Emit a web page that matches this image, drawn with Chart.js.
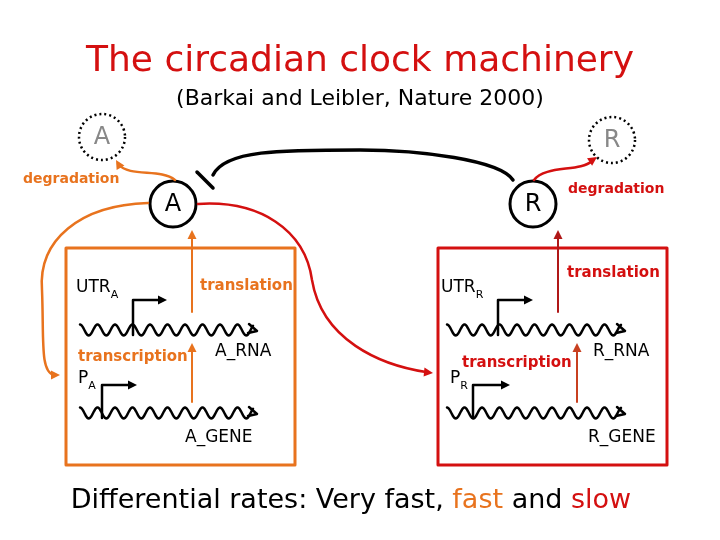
<!DOCTYPE html>
<html><head><meta charset="utf-8">
<script src="https://cdn.jsdelivr.net/npm/chart.js@4"></script>
<style>html,body{margin:0;padding:0;background:#fff}</style>
</head><body>
<canvas id="c" width="720" height="540"></canvas>
<script>
const ORANGE = '#e8731e', RED = '#d41010';
const nodeLabels = ['A','R','A','R'];
const nodeX = [173, 533, 102, 612];
const nodeY = [204, 204, 137, 140];
const nodeGhost = [false, false, true, true];

const texts = [
  {t:'The circadian clock machinery', x:360, y:62, c:RED, s:36, a:'center'},
  {t:'(Barkai and Leibler, Nature 2000)', x:360, y:99, c:'#000', s:22, a:'center'},
  {t:'degradation', x:23, y:179, c:ORANGE, s:14, a:'left', b:true},
  {t:'degradation', x:568, y:189, c:RED, s:14, a:'left', b:true},
  {t:'translation', x:200, y:286, c:ORANGE, s:15, a:'left', b:true},
  {t:'translation', x:567, y:273, c:RED, s:15, a:'left', b:true},
  {t:'transcription', x:78, y:357, c:ORANGE, s:15, a:'left', b:true},
  {t:'transcription', x:462, y:363, c:RED, s:15, a:'left', b:true},
  {t:'A_RNA', x:215, y:352, c:'#000', s:17, a:'left'},
  {t:'A_GENE', x:185, y:438, c:'#000', s:17, a:'left'},
  {t:'R_RNA', x:593, y:352, c:'#000', s:17, a:'left'},
  {t:'R_GENE', x:588, y:438, c:'#000', s:17, a:'left'},
];
const subTexts = [
  {t:'UTR', sub:'A', x:76, y:288},
  {t:'P', sub:'A', x:78, y:379},
  {t:'UTR', sub:'R', x:441, y:288},
  {t:'P', sub:'R', x:450, y:379},
];
const boxes = [{x1:66,y1:248,x2:295,y2:465,c:ORANGE},{x1:438,y1:248,x2:667,y2:465,c:RED}];
const waves = [{x1:80,x2:257,y:330},{x1:80,x2:257,y:413},{x1:447,x2:625,y:330},{x1:447,x2:625,y:413}];
const promoters = [{x:133,y1:335,y2:300,x2:167},{x:102,y1:418,y2:385,x2:137},{x:498,y1:335,y2:300,x2:533},{x:473,y1:418,y2:385,x2:510}];
const straightArrows = [
  {x:192,y1:312,y2:230,c:ORANGE},{x:192,y1:402,y2:343,c:ORANGE},
  {x:558,y1:312,y2:230,c:'#b01818'},{x:577,y1:402,y2:343,c:'#c84020'}];

const diagram = {
  id:'diagram',
  afterDatasetsDraw(chart){
    const ctx = chart.ctx, sx = chart.scales.x, sy = chart.scales.y;
    const X = v=>sx.getPixelForValue(v), Y = v=>sy.getPixelForValue(v);
    const font = (s,b)=>(b?'bold ':'')+s+'px "Comic Sans MS","DejaVu Sans",sans-serif';
    function head(x,y,ang,c){ctx.save();ctx.fillStyle=c;ctx.translate(x,y);ctx.rotate(ang);
      ctx.beginPath();ctx.moveTo(0,0);ctx.lineTo(-9,-4.5);ctx.lineTo(-9,4.5);ctx.closePath();ctx.fill();ctx.restore();}
    ctx.save();
    ctx.lineCap='round';ctx.lineJoin='round';
    boxes.forEach(b=>{ctx.strokeStyle=b.c;ctx.lineWidth=3;ctx.strokeRect(X(b.x1),Y(b.y1),X(b.x2)-X(b.x1),Y(b.y2)-Y(b.y1));});
    ctx.strokeStyle='#000';ctx.lineWidth=2.5;
    waves.forEach(w=>{ctx.beginPath();for(let x=w.x1;x<=w.x2-4;x+=1){const y=w.y-5.5*Math.cos((x-w.x1)*2*Math.PI/17.5);
      x===w.x1?ctx.moveTo(X(x),Y(y)):ctx.lineTo(X(x),Y(y));}ctx.stroke();
      ctx.beginPath();ctx.moveTo(X(w.x2-8),Y(w.y-6));ctx.lineTo(X(w.x2),Y(w.y+1));ctx.lineTo(X(w.x2-9),Y(w.y+3));ctx.stroke();});
    promoters.forEach(p=>{ctx.strokeStyle='#000';ctx.lineWidth=2.5;ctx.beginPath();ctx.moveTo(X(p.x),Y(p.y1));ctx.lineTo(X(p.x),Y(p.y2));ctx.lineTo(X(p.x2-6),Y(p.y2));ctx.stroke();head(X(p.x2),Y(p.y2),0,'#000');});
    straightArrows.forEach(a=>{ctx.strokeStyle=a.c;ctx.lineWidth=2;ctx.beginPath();ctx.moveTo(X(a.x),Y(a.y1));ctx.lineTo(X(a.x),Y(a.y2+6));ctx.stroke();head(X(a.x),Y(a.y2),-Math.PI/2,a.c);});
    ctx.lineWidth=2.5;
    ctx.strokeStyle=ORANGE;ctx.beginPath();ctx.moveTo(X(175),Y(180));ctx.bezierCurveTo(X(160),Y(168),X(130),Y(178),X(118),Y(164));ctx.stroke();head(X(116),Y(160),-2.1,ORANGE);
    ctx.beginPath();ctx.moveTo(X(148),Y(203));ctx.bezierCurveTo(X(80),Y(205),X(38),Y(240),X(42),Y(290));ctx.bezierCurveTo(X(44),Y(340),X(40),Y(372),X(54),Y(375));ctx.stroke();head(X(60),Y(375),0,ORANGE);
    ctx.strokeStyle=RED;ctx.beginPath();ctx.moveTo(X(198),Y(204));ctx.bezierCurveTo(X(260),Y(200),X(305),Y(230),X(312),Y(280));ctx.bezierCurveTo(X(322),Y(340),X(380),Y(365),X(426),Y(372));ctx.stroke();head(X(433),Y(373),0.1,RED);
    ctx.beginPath();ctx.moveTo(X(534),Y(180));ctx.bezierCurveTo(X(545),Y(165),X(580),Y(172),X(592),Y(161));ctx.stroke();head(X(597),Y(157),-0.6,RED);
    ctx.strokeStyle='#000';ctx.lineWidth=3.5;ctx.beginPath();ctx.moveTo(X(513),Y(180));ctx.bezierCurveTo(X(500),Y(160),X(420),Y(150),X(360),Y(150));ctx.bezierCurveTo(X(280),Y(150),X(225),Y(150),X(213),Y(175));ctx.stroke();
    ctx.beginPath();ctx.moveTo(X(197),Y(172));ctx.lineTo(X(213),Y(188));ctx.stroke();
    texts.forEach(o=>{ctx.fillStyle=o.c;ctx.font=font(o.s,o.b);ctx.textAlign=o.a;ctx.textBaseline='middle';ctx.fillText(o.t,X(o.x),Y(o.y));});
    subTexts.forEach(o=>{ctx.fillStyle='#000';ctx.font=font(17);ctx.textAlign='left';ctx.textBaseline='middle';ctx.fillText(o.t,X(o.x),Y(o.y));
      const w=ctx.measureText(o.t).width;ctx.font=font(11);ctx.fillText(o.sub,X(o.x)+w,Y(o.y+7));});
    ctx.font=font(27);ctx.textAlign='left';ctx.textBaseline='middle';
    const parts=[['Differential rates: Very fast, ','#000'],['fast',ORANGE],[' and ','#000'],['slow',RED]];
    let tw=0;parts.forEach(p=>tw+=ctx.measureText(p[0]).width);
    let cx=X(351)-tw/2;parts.forEach(p=>{ctx.fillStyle=p[1];ctx.fillText(p[0],cx,Y(501));cx+=ctx.measureText(p[0]).width;});
    ctx.restore();
  }
};
const nodeDraw = {
  id:'nodeDraw',
  afterDatasetsDraw(chart){
    const ctx=chart.ctx, meta=chart.getDatasetMeta(0);
    ctx.save();
    meta.data.forEach((p,i)=>{
      if(nodeGhost[i]){ctx.strokeStyle='#000';ctx.lineWidth=2.5;ctx.setLineDash([2,3]);ctx.beginPath();ctx.arc(p.x,p.y,23,0,Math.PI*2);ctx.stroke();ctx.setLineDash([]);}
      ctx.font='24px "Comic Sans MS","DejaVu Sans",sans-serif';ctx.textAlign='center';ctx.textBaseline='middle';
      ctx.fillStyle=nodeGhost[i]?'#888':'#000';ctx.fillText(nodeLabels[i],p.x,p.y+1);});
    ctx.restore();
  }
};
new Chart(document.getElementById('c'),{
  type:'scatter',
  data:{datasets:[{data:nodeX.map((x,i)=>({x,y:nodeY[i]})),pointRadius:nodeGhost.map(g=>g?0:23),pointHoverRadius:23,
    backgroundColor:'rgba(0,0,0,0)',borderColor:'#000',borderWidth:3}]},
  options:{responsive:false,animation:false,events:[],layout:{padding:0,autoPadding:false},
    plugins:{legend:{display:false},tooltip:{enabled:false}},
    scales:{x:{type:'linear',min:0,max:720,display:false},y:{type:'linear',min:0,max:540,reverse:true,display:false}}},
  plugins:[diagram,nodeDraw]
});
</script>
</body></html>
